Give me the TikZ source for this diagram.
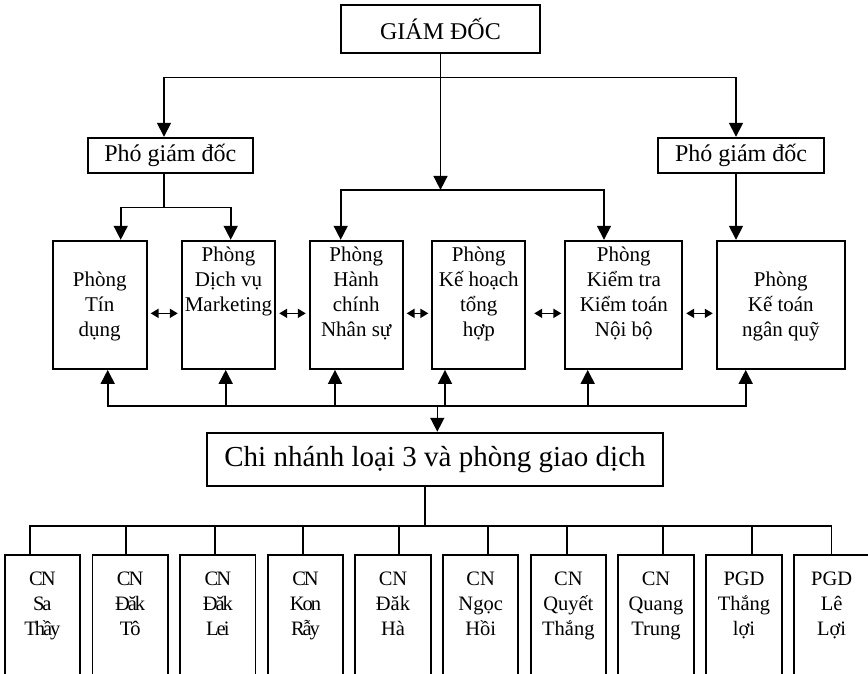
\documentclass[tikz,border=0pt]{standalone}
\usepackage{fontspec}
\setmainfont{Liberation Serif}
\newfontfamily\tightfont{Liberation Serif}[LetterSpace=-10]
\usetikzlibrary{arrows.meta,positioning}
\tikzset{
  hbox/.style={draw,line width=1.8pt,inner sep=0pt,font=\fontsize{24}{28}\selectfont},
  dept/.style={draw,line width=1.8pt,minimum height=128.3pt},
  branch/.style={draw,line width=1.8pt,minimum width=75.3pt,minimum height=140pt},
  depttxt/.style={align=center,inner sep=0pt,font=\fontsize{21}{25}\selectfont},
  branchtxt/.style={align=center,inner sep=0pt,font=\fontsize{20.5}{25}\selectfont},
  tighttxt/.style={branchtxt,font=\tightfont\fontsize{20.5}{25}\selectfont},
  arr/.style={-{Triangle[length=14pt,width=14pt]},line width=1.6pt},
  dbl/.style={{Triangle[length=8pt,width=9pt]}-{Triangle[length=8pt,width=9pt]},line width=1.6pt,shorten <=3pt,shorten >=3pt},
  link/.style={line width=1.6pt}
}
\begin{document}
\begin{tikzpicture}[x=1pt,y=-1pt]
  \useasboundingbox (0,0) rectangle (868,674);
  \clip (0,0) rectangle (868,674);
  % management
  \node[hbox,minimum width=199pt,minimum height=48pt] (gd) at (440.5,29) {GIÁM ĐỐC};
  \node[hbox,minimum width=165.3pt,minimum height=35.6pt] (pgd1) at (170.3,155.5) {Phó giám đốc};
  \node[hbox,minimum width=166pt,minimum height=35.6pt] (pgd2) at (741,155.5) {Phó giám đốc};
  % departments
  \node[dept,minimum width=94pt] (t1) at (99.7,304.85) {};
  \node[dept,minimum width=93.6pt] (t2) at (228.5,304.85) {};
  \node[dept,minimum width=93pt] (t3) at (356.2,304.85) {};
  \node[dept,minimum width=93pt] (t4) at (478.8,304.85) {};
  \node[dept,minimum width=117pt] (t5) at (623.8,304.85) {};
  \node[dept,minimum width=128.3pt] (t6) at (780.8,304.85) {};
  \node[depttxt,below=3.8pt of t1.north] (t1x) {\strut\\Phòng\\Tín\\dụng};
  \node[depttxt,below=3.8pt of t2.north] (t2x) {\strut Phòng\\Dịch vụ\\Marketing};
  \node[depttxt,below=3.8pt of t3.north] (t3x) {\strut Phòng\\Hành\\chính\\Nhân sự};
  \node[depttxt,below=3.8pt of t4.north] (t4x) {\strut Phòng\\Kế hoạch\\tổng\\hợp};
  \node[depttxt,below=3.8pt of t5.north] (t5x) {\strut Phòng\\Kiểm tra\\Kiểm toán\\Nội bộ};
  \node[depttxt,below=3.8pt of t6.north] (t6x) {\strut\\Phòng\\Kế toán\\ngân quỹ};
  \node[hbox,font=\fontsize{29}{34}\selectfont,minimum width=456.6pt,minimum height=53.3pt] (cn) at (435,459.3) {Chi nhánh loại 3 và phòng giao dịch};
  % branches
  \node[branch] (s1) at (42.35,625) {};
  \node[branch] (s2) at (130.2,625) {};
  \node[branch] (s3) at (217.85,625) {};
  \node[branch] (s4) at (305.5,625) {};
  \node[branch] (s5) at (393,625) {};
  \node[branch] (s6) at (480.65,625) {};
  \node[branch] (s7) at (568.35,625) {};
  \node[branch] (s8) at (656,625) {};
  \node[branch] (s9) at (744,625) {};
  \node[branch] (s10) at (831.65,625) {};
  \node[tighttxt,below=13.5pt of s1.north] (s1x) {\strut CN\\Sa\\Thầy};
  \node[tighttxt,below=13.5pt of s2.north] (s2x) {\strut CN\\Đăk\\Tô};
  \node[tighttxt,below=13.5pt of s3.north] (s3x) {\strut CN\\Đăk\\Lei};
  \node[tighttxt,below=13.5pt of s4.north] (s4x) {\strut CN\\Kon\\Rẫy};
  \node[branchtxt,below=13.5pt of s5.north] (s5x) {\strut CN\\Đăk\\Hà};
  \node[branchtxt,below=13.5pt of s6.north] (s6x) {\strut CN\\Ngọc\\Hồi};
  \node[branchtxt,below=13.5pt of s7.north] (s7x) {\strut CN\\Quyết\\Thắng};
  \node[branchtxt,below=13.5pt of s8.north] (s8x) {\strut CN\\Quang\\Trung};
  \node[branchtxt,below=13.5pt of s9.north] (s9x) {\strut PGD\\Thắng\\lợi};
  \node[branchtxt,below=13.5pt of s10.north] (s10x) {\strut PGD\\Lê\\Lợi};
  % top connectors
  \coordinate (gtop) at ([yshift=-23.7pt]gd.south);
  \coordinate (gmid) at ([yshift=-136pt]gd.south);
  \draw[arr] (gtop) -| ([xshift=-6.3pt]pgd1.north);
  \draw[arr] (gtop) -| ([xshift=-5pt]pgd2.north);
  \draw[arr] (gd.south) -- (gmid);
  \draw[arr] (gmid) -| ([xshift=-15.5pt]t3.north);
  \draw[arr] (gmid) -| ([xshift=-19.8pt]t5.north);
  \coordinate (p1) at ([xshift=-6.3pt,yshift=-33.4pt]pgd1.south);
  \draw[link] ([xshift=-6.3pt]pgd1.south) -- (p1);
  \draw[arr] (p1) -| ([xshift=21pt]t1.north);
  \draw[arr] (p1) -| ([xshift=2.2pt]t2.north);
  \draw[arr] ([xshift=-5pt]pgd2.south) -- ([xshift=-5pt]pgd2.south |- t6.north);
  % between departments
  \draw[dbl] ([yshift=-8.5pt]t1.east) -- ([yshift=-8.5pt]t2.west);
  \draw[dbl] ([yshift=-8.5pt]t2.east) -- ([yshift=-8.5pt]t3.west);
  \draw[dbl] ([yshift=-8.5pt]t3.east) -- ([yshift=-8.5pt]t4.west);
  \draw[dbl,shorten <=8pt] ([yshift=-8.5pt]t4.east) -- ([yshift=-8.5pt]t5.west);
  \draw[dbl] ([yshift=-8.5pt]t5.east) -- ([yshift=-8.5pt]t6.west);
  % lower bus
  \coordinate (mbus) at (437.3,405.7);
  \draw[arr] (mbus) -| ([xshift=8pt]t1.south);
  \draw[arr] (mbus) -| ([xshift=-2.8pt]t2.south);
  \draw[arr] (mbus) -| ([xshift=-21.2pt]t3.south);
  \draw[arr] (mbus) -| ([xshift=-33.8pt]t4.south);
  \draw[arr] (mbus) -| ([xshift=-36.1pt]t5.south);
  \draw[arr] (mbus) -| ([xshift=-35.1pt]t6.south);
  \draw[arr] (mbus) -- ([xshift=2.3pt]cn.north);
  % branches
  \coordinate (sbus) at ([xshift=-10pt,yshift=-39pt]cn.south);
  \draw[link] ([xshift=-10pt]cn.south) -- (sbus);
  \draw[link] (sbus) -| ([xshift=-12.35pt]s1.north);
  \draw[link] (sbus) -| ([xshift=-4.2pt]s2.north);
  \draw[link] (sbus) -| ([xshift=-2.85pt]s3.north);
  \draw[link] (sbus) -| ([xshift=-2.5pt]s4.north);
  \draw[link] (sbus) -| ([xshift=6pt]s5.north);
  \draw[link] (sbus) -| ([xshift=7.35pt]s6.north);
  \draw[link] (sbus) -| ([xshift=-1.35pt]s7.north);
  \draw[link] (sbus) -| ([xshift=7pt]s8.north);
  \draw[link] (sbus) -| ([xshift=7.7pt]s9.north);
  \draw[link] (sbus) -| (s10.north);
\end{tikzpicture}
\end{document}
